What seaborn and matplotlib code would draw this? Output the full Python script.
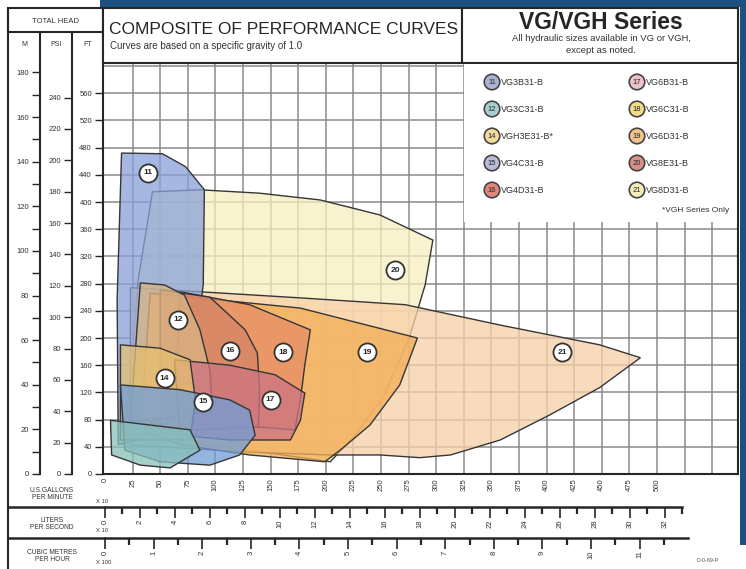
import numpy as np
import matplotlib
matplotlib.use("Agg")
import matplotlib.pyplot as plt
from matplotlib.patches import Polygon, Rectangle
from matplotlib.colors import to_rgba
from matplotlib import font_manager
import pandas as pd
import seaborn as sns

# flow in US gallons per minute x10, total head in feet
flow_20 = [43, 86, 140, 195, 249, 297, 290, 276, 252, 225, 204, 131, 50, 18, 30]
head_20 = [415, 418, 413, 403, 381, 344, 278, 202, 113, 54, 18, 35, 50, 50, 285]
flow_21 = [23, 86, 177, 272, 358, 448, 485, 448, 403, 358, 313, 285, 249, 204, 131, 23]
head_21 = [274, 268, 259, 249, 219, 190, 171, 127, 87, 50, 28, 24, 28, 28, 32, 43]
flow_11 = [15, 52, 73, 90, 89, 82, 59, 32, 12, 11]
head_11 = [472, 471, 452, 418, 278, 197, 109, 50, 43, 256]
flow_19 = [41, 177, 283, 267, 240, 213, 199, 131, 68, 32]
head_19 = [266, 244, 200, 131, 72, 35, 18, 28, 43, 65]
flow_18 = [68, 131, 186, 181, 177, 172, 113, 63]
head_18 = [268, 249, 212, 160, 109, 65, 72, 79]
flow_16 = [50, 95, 127, 138, 140, 139, 86, 50]
head_16 = [271, 260, 212, 178, 124, 69, 65, 65]
flow_12 = [32, 54, 72, 86, 95, 97, 41, 23]
head_12 = [281, 278, 263, 212, 153, 94, 79, 79]
flow_17 = [63, 113, 154, 181, 177, 168, 113, 68]
head_17 = [168, 160, 146, 119, 79, 50, 50, 57]
flow_14 = [14, 50, 77, 82, 77, 14]
head_14 = [190, 185, 168, 109, 50, 50]
flow_15 = [14, 68, 113, 131, 136, 122, 95, 50, 18]
head_15 = [131, 124, 109, 94, 57, 28, 13, 18, 35]
flow_low = [5, 77, 86, 59, 32, 6]
head_low = [79, 65, 35, 9, 13, 28]

label_ids = ["11", "20", "12", "16", "18", "19", "21", "14", "15", "17"]
label_flow = [39, 263, 66, 113, 161, 237, 414, 54, 89, 150]
label_head = [443, 300, 227, 181, 179, 179, 179, 141, 106, 109]

legend_ids = ["11", "12", "14", "15", "16", "17", "18", "19", "20", "21"]
legend_models = ["VG3B31-B", "VG3C31-B", "VGH3E31-B*", "VG4C31-B", "VG4D31-B",
                 "VG6B31-B", "VG6C31-B", "VG6D31-B", "VG8E31-B", "VG8D31-B"]

gpm_ticks = list(range(0, 501, 25))
lps_ticks = list(range(0, 33, 2))
m3h_ticks = list(range(0, 12))
ft_ticks = list(range(0, 561, 40))
m_ticks = list(range(0, 181, 20))
psi_ticks = list(range(0, 241, 20))

FT_PER_M = 3.28084
FT_PER_PSI = 2.30666
GPM10_PER_LPS10 = 15.8503
GPM10_PER_M3H100 = 44.0287

fills = {"20": "#f6eec0", "21": "#f7d0a8", "11": "#8aa2d8", "19": "#f2ae55",
         "18": "#e88d66", "16": "#d48566", "12": "#dab385", "17": "#cc7482",
         "14": "#e6bf72", "15": "#729ed6", "low": "#88c0ba"}
legend_colors = ["#a9b3d3", "#a8cfd0", "#f3dca0", "#b8bcd8", "#e0857a",
                 "#ecc2c8", "#f2dc86", "#f2c48c", "#d89088", "#f4ebb8"]

INK = "#262626"
GRID = "#8a8a8a"
BLUE = "#1d4f80"

sns.set_theme(style="white")
names = {f.name for f in font_manager.fontManager.ttflist}
base = "Liberation Sans" if "Liberation Sans" in names else "DejaVu Sans"
narrow = "Liberation Sans Narrow" if "Liberation Sans Narrow" in names else base
plt.rcParams["font.family"] = [base, "DejaVu Sans"]

W, H = 746, 569
fig = plt.figure(figsize=(W / 100, H / 100), dpi=100)
fig.patch.set_facecolor("white")


def px_axes(x0, y0, x1, y1, **kw):
    return fig.add_axes([x0 / W, 1 - y1 / H, (x1 - x0) / W, (y1 - y0) / H], **kw)


X_LEFT, X_RIGHT = -1.8, 573.4
FT_TOP = 682.4

# main chart
ax = px_axes(103, 10, 738, 474)
ax.set_xlim(X_LEFT, X_RIGHT)
ax.set_ylim(0, FT_TOP)
for v in np.arange(25, 575, 25):
    ax.axvline(v, color=GRID, lw=1.1, zorder=0.5)
for h in np.arange(40, 681, 40):
    ax.axhline(h, color=GRID, lw=1.1, zorder=0.5)

regions = [("20", flow_20, head_20), ("21", flow_21, head_21), ("11", flow_11, head_11),
           ("19", flow_19, head_19), ("18", flow_18, head_18), ("16", flow_16, head_16),
           ("12", flow_12, head_12), ("17", flow_17, head_17), ("14", flow_14, head_14),
           ("15", flow_15, head_15), ("low", flow_low, head_low)]
for key, fl, hd in regions:
    ax.add_patch(Polygon(np.column_stack([fl, hd]), closed=True,
                         facecolor=to_rgba(fills[key], 0.76), edgecolor="#363636",
                         lw=1.0, zorder=2))

df_lab = pd.DataFrame({"flow": label_flow, "head": label_head, "id": label_ids})
sns.scatterplot(data=df_lab, x="flow", y="head", s=170, color="white",
                edgecolor="#333333", linewidth=1.3, ax=ax, zorder=5)
for _, r in df_lab.iterrows():
    ax.text(r["flow"], r["head"], r["id"], ha="center", va="center",
            fontsize=6, fontweight="bold", color=INK, zorder=6)
ax.set_xlabel("")
ax.set_ylabel("")

ax.set_xticks(gpm_ticks)
ax.set_xticklabels([str(t) for t in gpm_ticks], rotation=90)
ax.tick_params(axis="x", length=0, pad=3, labelsize=5.5, labelcolor="#333333")
ax.set_yticks(ft_ticks)
ax.set_yticklabels([str(t) for t in ft_ticks])
ax.tick_params(axis="y", left=True, direction="out", length=6, width=1.0, pad=2,
               labelsize=5.5, labelcolor="#333333", color=INK)
for s in ax.spines.values():
    s.set_color(INK)
    s.set_linewidth(1.5)

# metre and psi head scales
for xpos, conv, major, minor in [(40, FT_PER_M, m_ticks, list(range(10, 171, 20))),
                                 (72, FT_PER_PSI, psi_ticks, [])]:
    a = px_axes(xpos - 0.5, 10, xpos + 0.5, 474, zorder=6)
    a.patch.set_visible(False)
    a.set_ylim(0, FT_TOP / conv)
    a.set_xticks([])
    for side in ["right", "top", "bottom"]:
        a.spines[side].set_visible(False)
    a.spines["left"].set_bounds(0, 650 / conv)
    a.spines["left"].set_color(INK)
    a.spines["left"].set_linewidth(1.5)
    a.set_yticks(major)
    a.set_yticks(minor, minor=True)
    a.tick_params(axis="y", which="both", left=True, direction="out", length=6,
                  width=1.0, pad=1.5, labelsize=5.5, labelcolor="#333333", color=INK)

# litres per second and cubic metres per hour flow scales
for (y0, y1, conv, major, minor, top) in [
        (495, 507, GPM10_PER_LPS10, lps_ticks, list(np.arange(1, 34, 2)), 33),
        (526, 538, GPM10_PER_M3H100, m3h_ticks, list(np.arange(0.5, 12, 1)), 12)]:
    a = px_axes(103, y0, 738, y1, zorder=6)
    a.patch.set_visible(False)
    a.set_xlim(X_LEFT / conv, X_RIGHT / conv)
    a.set_yticks([])
    for side in ["left", "right", "top"]:
        a.spines[side].set_visible(False)
    a.spines["bottom"].set_bounds(0, top)
    a.spines["bottom"].set_color(INK)
    a.spines["bottom"].set_linewidth(1.8)
    a.set_xticks(major)
    a.set_xticklabels([str(t) for t in major], rotation=90)
    a.set_xticks(minor, minor=True)
    a.tick_params(axis="x", which="major", bottom=True, direction="out", length=8,
                  width=1.2, pad=1, labelsize=5.5, labelcolor="#333333", color=INK)
    a.tick_params(axis="x", which="minor", bottom=True, direction="out", length=5,
                  width=1.6, color=INK)

# overlay in pixel coordinates: frames, headers, legend
ov = fig.add_axes([0, 0, 1, 1], zorder=5)
ov.set_xlim(0, W)
ov.set_ylim(H, 0)
ov.axis("off")

ov.add_patch(Rectangle((100, 0), W - 100, 7, color=BLUE, lw=0))
ov.add_patch(Rectangle((740, 0), 6, 545, color=BLUE, lw=0))

ov.plot([8, 8], [8, H], color=INK, lw=1.5)
ov.add_patch(Rectangle((8, 8), 95, 24, facecolor="white", edgecolor=INK, lw=1.5))
ov.text(55, 21, "TOTAL HEAD", ha="center", va="center", fontsize=5.5, color="#333333")
for x, t in [(24, "M"), (56, "PSI"), (88, "FT")]:
    ov.text(x, 44, t, ha="center", va="center", fontsize=5, color="#333333")
ov.plot([8, 105], [507, 507], color=INK, lw=1.8)
ov.plot([8, 105], [538, 538], color=INK, lw=1.8)
for y, t, unit in [(494, "U.S.GALLONS\nPER MINUTE", "X 10"),
                   (524, "LITERS\nPER SECOND", "X 10"),
                   (556, "CUBIC METRES\nPER HOUR", "X 100")]:
    ov.text(52, y, t, ha="center", va="center", fontsize=4.8, color="#333333",
            linespacing=1.1)
    ov.text(96, y + 7, unit, ha="left", va="center", fontsize=4.2, color="#333333")

ov.add_patch(Rectangle((103, 8), 359, 55, facecolor="white", edgecolor=INK, lw=1.5))
ov.add_patch(Rectangle((462, 8), 276, 55, facecolor="white", edgecolor=INK, lw=1.5))
ov.text(109, 29, "COMPOSITE OF PERFORMANCE CURVES", ha="left", va="center",
        fontsize=12.5, family=[narrow, "DejaVu Sans"], color=INK)
ov.text(110, 46, "Curves are based on a specific gravity of 1.0", ha="left",
        va="center", fontsize=7, color="#333333")
ov.text(601, 22, "VG/VGH Series", ha="center", va="center", fontsize=16.5,
        fontweight="bold", color=INK)
ov.text(601, 38, "All hydraulic sizes available in VG or VGH,", ha="center",
        va="center", fontsize=6.8, color="#333333")
ov.text(601, 50, "except as noted.", ha="center", va="center", fontsize=6.8,
        color="#333333")

ov.add_patch(Rectangle((464, 64), 273, 158, facecolor="white", lw=0))
leg_x = [492] * 5 + [637] * 5
leg_y = [82, 109, 136, 163, 190] * 2
df_leg = pd.DataFrame({"x": leg_x, "y": leg_y, "id": legend_ids})
sns.scatterplot(data=df_leg, x="x", y="y", hue="id", palette=legend_colors, s=125,
                edgecolor="#444444", linewidth=1.2, legend=False, ax=ov, zorder=3)
for x, y, i, m in zip(leg_x, leg_y, legend_ids, legend_models):
    ov.text(x, y, i, ha="center", va="center", fontsize=5.5, color=INK, zorder=4)
    ov.text(x + 9, y, m, ha="left", va="center", fontsize=6.5, color="#333333")
ov.text(696, 210, "*VGH Series Only", ha="center", va="center", fontsize=6,
        color="#333333")
ov.text(708, 561, "D-0-69-P", ha="center", va="center", fontsize=4, color="#555555")
ov.set_xlim(0, W)
ov.set_ylim(H, 0)
ov.axis("off")

fig.savefig("out.png", dpi=100)
